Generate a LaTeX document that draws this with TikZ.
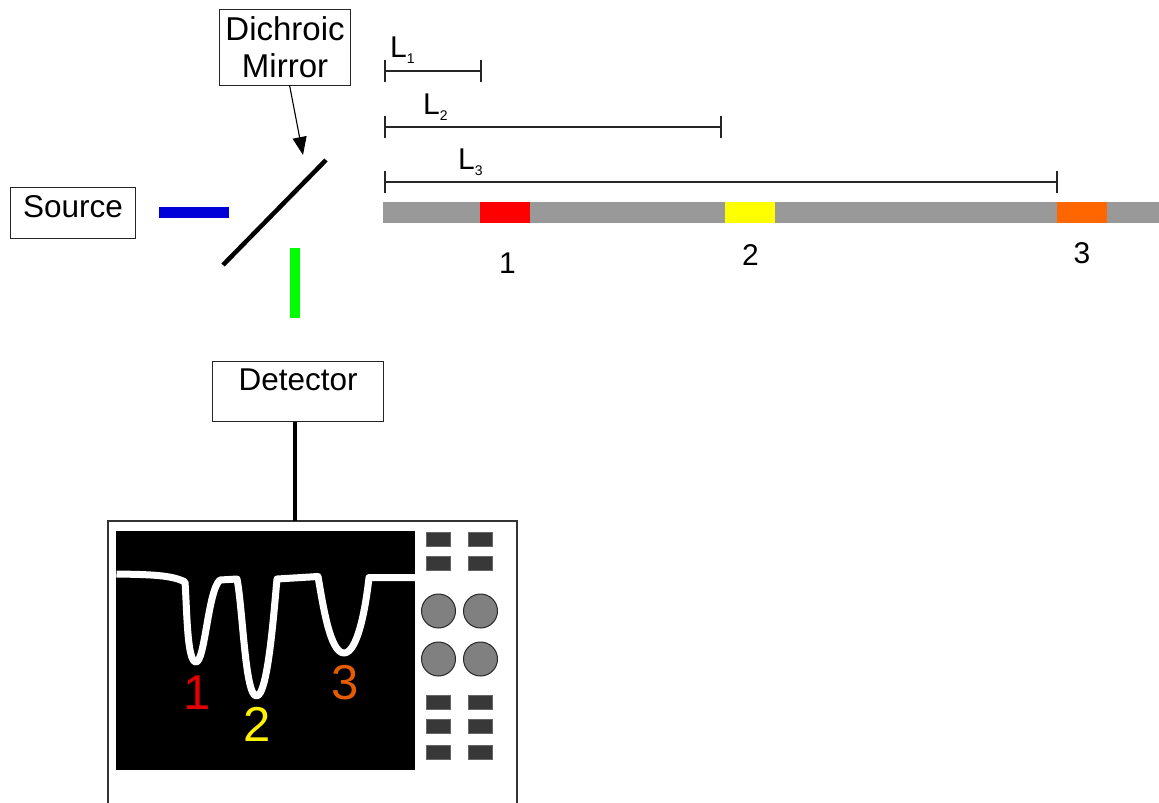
\documentclass[tikz,border=0pt]{standalone}
\usepackage{fontspec}
\setmainfont{Liberation Sans}
\usetikzlibrary{arrows.meta}
\newcommand{\fs}[1]{\fontsize{#1}{#1}\selectfont}
\tikzset{
  labelbox/.style={draw=black!85,line width=1.1pt,inner sep=0pt,anchor=north west,align=center,font=\fontsize{31.5}{37}\selectfont},
  bardim/.style={black!85,line width=1.2pt},
  dimtick/.style={black!85,line width=1.6pt},
  barseg/.style={fill=#1,draw=none,minimum width=50pt,minimum height=21pt,inner sep=0pt,anchor=north west},
  smallbtn/.style={fill=black!78,draw=black!60,line width=.6pt,minimum width=24pt,minimum height=14pt,inner sep=0pt},
  knob/.style={circle,fill=black!50,draw=black!85,line width=1pt,minimum size=34pt,inner sep=0pt},
  lenlabel/.style={anchor=base west,inner sep=0pt,font=\fs{30}},
  numlabel/.style={inner sep=0pt,font=\fs{30}},
  tracelabel/.style={inner sep=0pt,font=\fs{49}},
}
\definecolor{barred}{HTML}{FF0000}
\definecolor{baryellow}{HTML}{FFFF00}
\definecolor{barorange}{HTML}{FF6600}
\definecolor{bargray}{HTML}{999999}
\begin{document}
\begin{tikzpicture}[x=1pt,y=-1pt]
\useasboundingbox (0,0) rectangle (1159,803);
% boxes
\node[labelbox,minimum width=125pt,minimum height=51pt,text height=30pt,text depth=21pt] (source) at (10,187) {Source};
\node[labelbox,minimum width=131pt,minimum height=76pt,font=\fontsize{33}{37}\selectfont] (dichroic) at (219,9) {Dichroic\\Mirror};
\node[labelbox,minimum width=171pt,minimum height=60pt,text height=29pt,text depth=31pt,text width=168pt] (detector) at (212,361) {Detector};
% beams and mirror
\node[fill=blue!85!black,draw=none,minimum width=70pt,minimum height=11pt,inner sep=0pt,anchor=north west] (blue) at (159,207) {};
\node[fill=green,draw=none,minimum width=10pt,minimum height=70pt,inner sep=0pt,anchor=north west] (greenbar) at (290,248) {};
\coordinate (mirrorA) at (223,265);
\coordinate (mirrorB) at (326,160);
\draw[line width=4.5pt] (mirrorA) -- (mirrorB);
\coordinate (arrowstart) at (289.5,85);
\coordinate (arrowend) at (303,155);
\draw[line width=1.1pt,-{Stealth[length=18pt,width=14pt,inset=0pt]}] (arrowstart) -- (arrowend);
% sample bar
\node[fill=bargray,draw=none,minimum width=776pt,minimum height=21pt,inner sep=0pt,anchor=north west] (bar) at (383,202) {};
\node[barseg=barred] (seg1) at (480,202) {};
\node[barseg=baryellow] (seg2) at (725,202) {};
\node[barseg=barorange] (seg3) at (1057,202) {};
\node[numlabel] (n1) at (507.5,263) {1};
\node[numlabel] (n2) at (750.5,255) {2};
\node[numlabel] (n3) at (1082,253.5) {3};
% length markers
\coordinate (l0a) at (385,71); \coordinate (l1e) at (481,71);
\coordinate (l0b) at (385,127); \coordinate (l2e) at (721,127);
\coordinate (l0c) at (385,182); \coordinate (l3e) at (1057,182);
\draw[bardim] (l0a) -- (l1e);
\draw[bardim] (l0b) -- (l2e);
\draw[bardim] (l0c) -- (l3e);
\foreach \c in {l0a,l1e,l0b,l2e,l0c,l3e}
  \draw[dimtick] ([yshift=11pt]\c) -- ([yshift=-11pt]\c);
\node[lenlabel] (L1) at (390,57) {L\raisebox{-6pt}{\fs{14}1}};
\node[lenlabel] (L2) at (423,114) {L\raisebox{-6pt}{\fs{14}2}};
\node[lenlabel] (L3) at (458,169) {L\raisebox{-6pt}{\fs{14}3}};
% oscilloscope
\coordinate (oscA) at (108,803); \coordinate (oscB) at (108,521);
\coordinate (oscC) at (517,521); \coordinate (oscD) at (517,803);
\coordinate (osctop) at (295,521);
\draw[black!80,line width=1.2pt] (oscA) -- (oscB) -- (oscC) -- (oscD);
\draw[line width=4.5pt] (detector.south -| osctop) -- (osctop);
\node[fill=black,draw=none,minimum width=299pt,minimum height=239pt,inner sep=0pt,anchor=north west] (screen) at (116,531) {};
\draw[white,line width=7pt,line join=round]
  (116.5,574) .. controls (150,574.5) and (172,575) .. (185,582)
  .. controls (187,610) and (187,662) .. (196,662)
  .. controls (205,662) and (208,590) .. (220,580)
  -- (237,579)
  .. controls (243,610) and (245,696) .. (256.5,696)
  .. controls (268,696) and (274,610) .. (277,579)
  -- (318,576.5)
  .. controls (323,605) and (330,653) .. (344,653)
  .. controls (358,653) and (366,605) .. (369,577.5)
  -- (415,577.5);
\foreach \x/\a in {438.5/a,480.5/b}{
  \foreach \y/\b in {539/1,563.5/2,702/3,726.5/4,752.5/5}
    \node[smallbtn] (btn\a\b) at (\x,\y) {};
  \foreach \y/\b in {611/1,659/2}
    \node[knob] (knob\a\b) at (\x,\y) {};
}
\node[tracelabel,text=red!90!black] (t1) at (197,693) {1};
\node[tracelabel,text=yellow] (t2) at (257,724) {2};
\node[tracelabel,text=barorange!90!black] (t3) at (345,683) {3};
\end{tikzpicture}
\end{document}
